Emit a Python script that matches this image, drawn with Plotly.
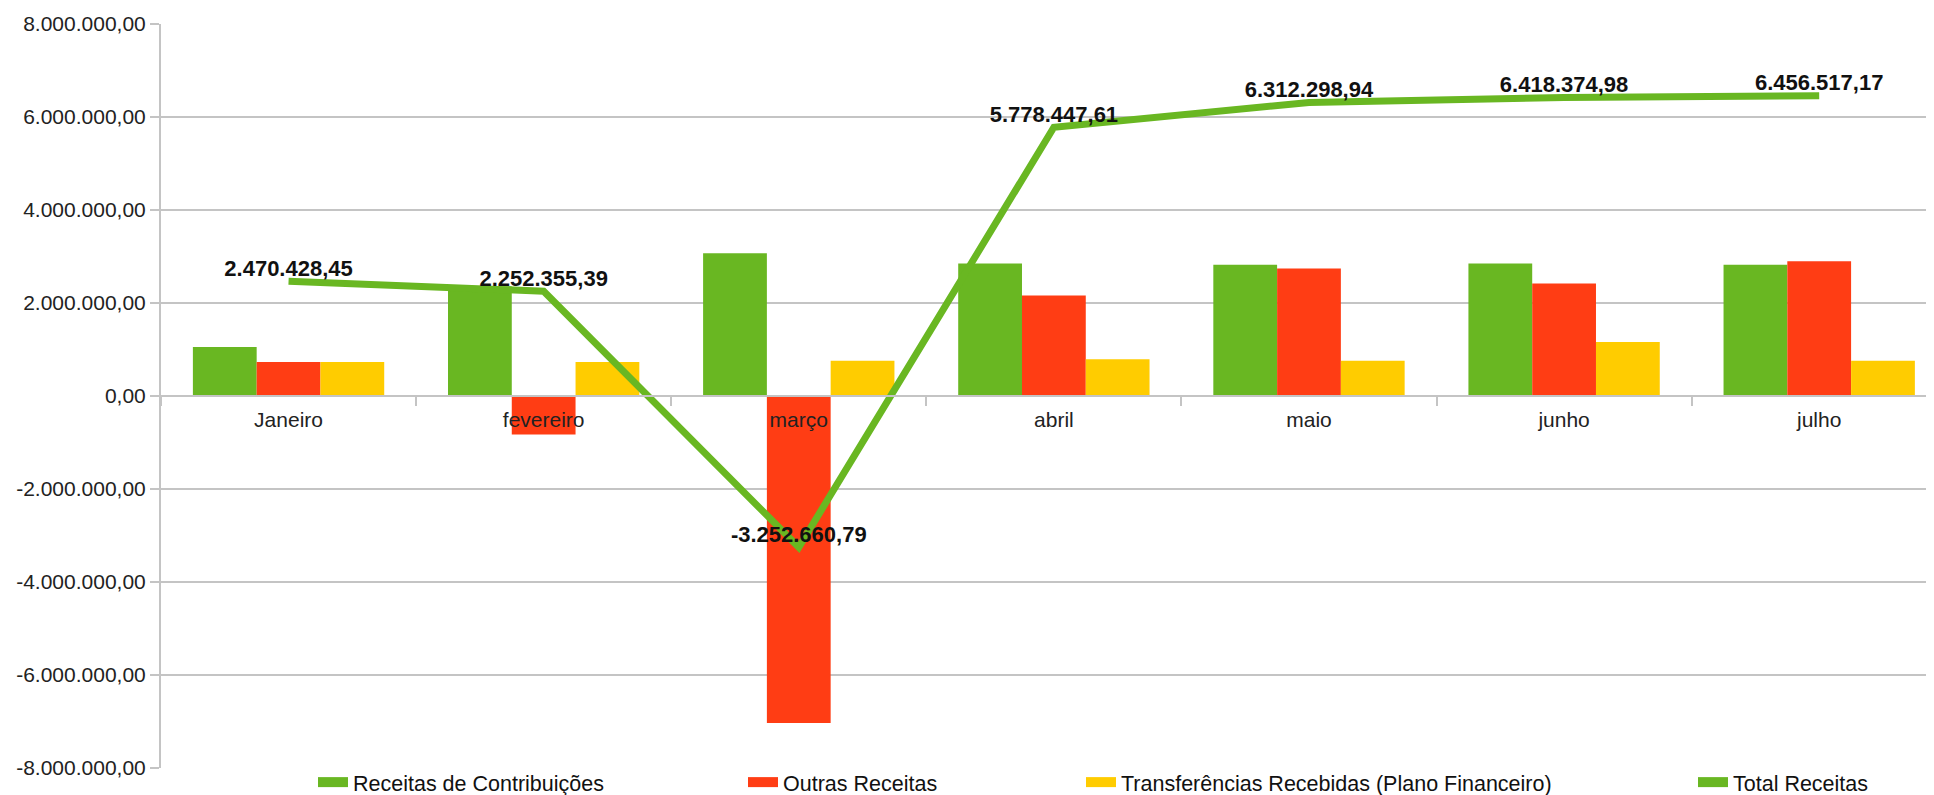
import plotly.graph_objects as go

categories = ["Janeiro", "fevereiro", "março", "abril", "maio", "junho", "julho"]
receitas_contribuicoes = [1054000, 2360000, 3070000, 2850000, 2820000, 2850000, 2820000]
outras_receitas = [730000, -830000, -7030000, 2160000, 2740000, 2420000, 2900000]
transferencias = [730000, 730000, 760000, 790000, 760000, 1160000, 760000]
total_receitas = [2470428.45, 2252355.39, -3252660.79, 5778447.61, 6312298.94, 6418374.98, 6456517.17]
y_tick_values = [-8000000, -6000000, -4000000, -2000000, 0, 2000000, 4000000, 6000000, 8000000]


def br(v):
    s = f"{v:,.2f}"
    return s.replace(",", "X").replace(".", ",").replace("X", ".")


y_tick_labels = [br(v) for v in y_tick_values]
total_labels = [br(v) for v in total_receitas]

GREEN = "#69b722"
RED = "#ff3d14"
YELLOW = "#ffcc00"
GRID = "#c4c4c4"
FONT = "Liberation Sans, Arial, sans-serif"

fig = go.Figure()
series = [
    ("Receitas de Contribuições", receitas_contribuicoes, GREEN),
    ("Outras Receitas", outras_receitas, RED),
    ("Transferências Recebidas (Plano Financeiro)", transferencias, YELLOW),
]
for name, vals, col in series:
    fig.add_trace(go.Bar(x=categories, y=vals, name=name, marker=dict(color=col, line=dict(width=0)),
                         showlegend=False, hoverinfo="y"))

fig.add_trace(go.Scatter(x=categories, y=total_receitas, name="Total Receitas", mode="lines+text",
                         line=dict(color=GREEN, width=7), text=total_labels, textposition="top center",
                         textfont=dict(family=FONT, size=22, color="#111111"), texttemplate="<b>%{text}</b>",
                         cliponaxis=False, showlegend=False))

# the page body has an 8px margin: the figure is sized/offset to compensate
OFF = 8
PLOT_LEFT = 161
W = 1934.0 - PLOT_LEFT
legend_text_starts = [354, 784, 1122, 1734]
legend_entries = [
    ("Receitas de Contribuições", GREEN, 13),
    ("Outras Receitas", RED, 13),
    ("Transferências Recebidas (Plano Financeiro)", YELLOW, 13),
    ("Total Receitas", GREEN, 10),
]
layout_legends = {}
for i, ((name, col, lw), tx) in enumerate(zip(legend_entries, legend_text_starts)):
    key = "legend" if i == 0 else f"legend{i+1}"
    fig.add_trace(go.Scatter(x=[None], y=[None], mode="lines", name=name, line=dict(color=col, width=lw),
                             legend=key, showlegend=True))
    layout_legends[key] = dict(x=(tx - 41 - PLOT_LEFT) / W, y=-0.019, xanchor="left", yanchor="middle",
                               orientation="h", bgcolor="rgba(0,0,0,0)",
                               font=dict(family=FONT, size=21.5, color="#111111"))

fig.update_layout(
    width=1934 - OFF, height=795 - OFF,
    margin=dict(l=PLOT_LEFT - OFF, r=0, t=24 - OFF, b=27, autoexpand=False),
    paper_bgcolor="white", plot_bgcolor="white",
    barmode="group", bargap=0.25, bargroupgap=0,
    font=dict(family=FONT, size=21, color="#222222"),
    **layout_legends,
)
fig.update_xaxes(
    type="category", range=[-0.5, 6.45], anchor="free", position=0.5,
    showline=True, linecolor=GRID, linewidth=2,
    ticks="outside", tickson="boundaries", ticklen=9, tickcolor=GRID, tickwidth=2,
    ticklabelstandoff=5,
    showgrid=False, tickfont=dict(family=FONT, size=21, color="#222222"),
)
fig.update_yaxes(
    range=[-8000000, 8000000], tickvals=y_tick_values, ticktext=y_tick_labels,
    showgrid=True, gridcolor=GRID, gridwidth=2, zeroline=False,
    showline=True, linecolor=GRID, linewidth=2,
    ticks="outside", ticklen=9, tickcolor=GRID, tickwidth=2,
    tickfont=dict(family=FONT, size=21, color="#222222"),
)

fig.write_html("out.html")
